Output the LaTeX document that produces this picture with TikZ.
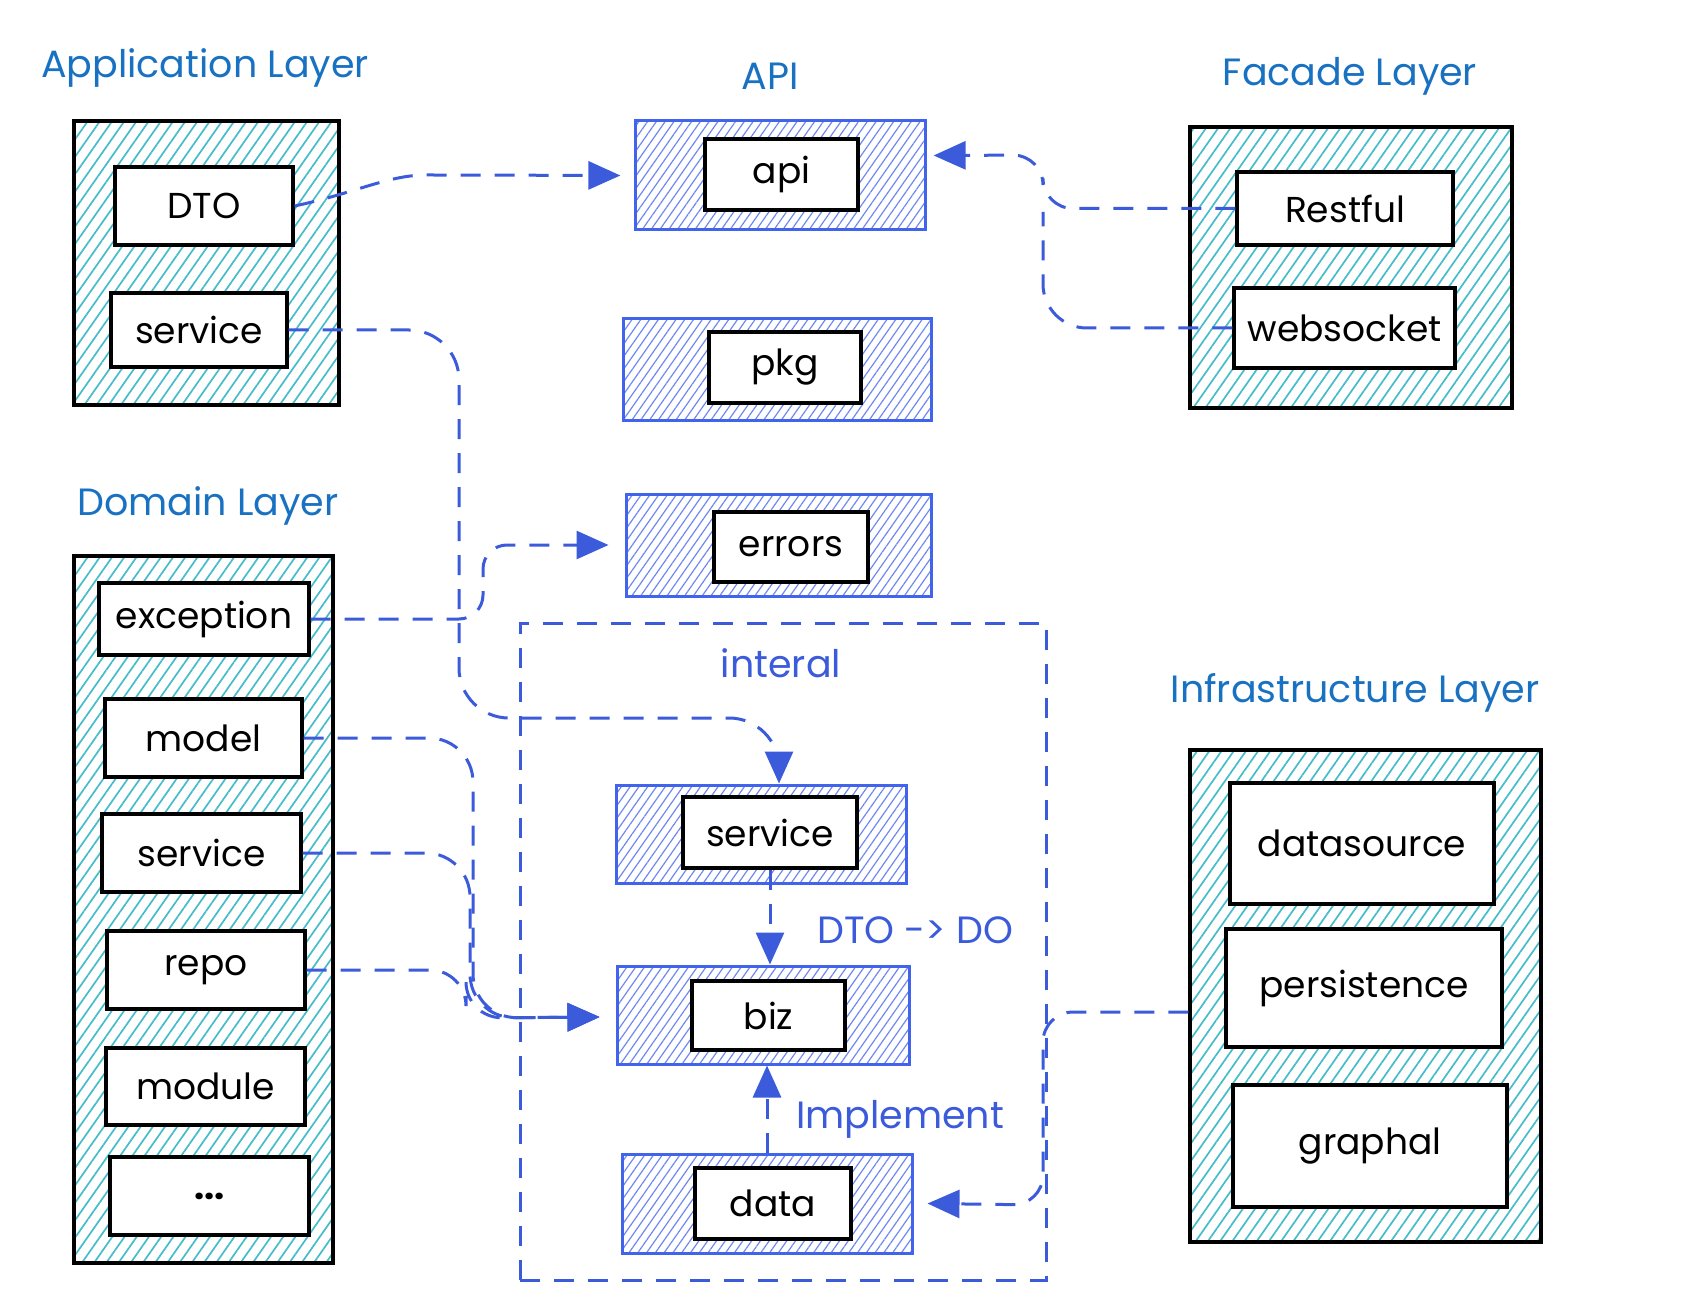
\documentclass[tikz,border=0pt]{standalone}
\usepackage{fontspec}
\setmainfont{Poppins}
\usetikzlibrary{arrows.meta,patterns.meta,fit}
\definecolor{ttlc}{HTML}{1971C2}
\definecolor{arrc}{HTML}{3B5BDB}
\definecolor{bborder}{HTML}{4263EB}
\definecolor{bhatch}{HTML}{6F88F0}
\definecolor{chatch}{HTML}{45BCCB}
\begin{document}
\begin{tikzpicture}[x=0.5pt,y=-0.5pt,
  layerbox/.style={draw=black, line width=1.6pt, pattern={Lines[angle=55,distance=5pt,line width=0.85pt]}, pattern color=chatch, inner sep=0pt},
  pkgbox/.style={draw=bborder, line width=1.5pt, pattern={Lines[angle=55,distance=3.6pt,line width=0.6pt]}, pattern color=bhatch, inner sep=0pt},
  itemtext/.style={text=black, font=\fontsize{18}{22}\selectfont, inner sep=0pt},
  itembox/.style={draw=black, line width=1.6pt, fill=white, inner sep=0pt, label={[itemtext]center:#1}},
  ttlnode/.style={text=ttlc, font=\fontsize{19}{22}\selectfont, inner sep=0pt},
  lblnode/.style={text=arrc, font=\fontsize{19}{22}\selectfont, inner sep=0pt},
  connline/.style={draw=arrc, line width=1.5pt, dash pattern=on 10pt off 7pt},
  conn/.style={connline, -{Triangle[length=16pt,width=14pt]}}
]
\useasboundingbox (0,0) rectangle (1684,1310);

% titles
\node[ttlnode] (tapp) at (205,68) {Application Layer};
\node[ttlnode] (tapi) at (770,76) {API};
\node[ttlnode] (tfac) at (1350,76) {Facade Layer};
\node[ttlnode] (tdom) at (208,506) {Domain Layer};
\node[ttlnode] (tinf) at (1355,693) {Infrastructure Layer};

% application layer
\node[layerbox, fit={(74,121)(339,405)}] (app) {};
\node[itembox=DTO, fit={(115,167)(293,245)}] (dto) {};
\node[itembox=service, fit={(111,293)(287,367)}] (appsvc) {};

% API column
\node[pkgbox, fit={(635,121)(925,230)}] (apiO) {};
\node[itembox=api, fit={(705,139)(858,210)}] (apiI) {};
\node[pkgbox, fit={(623,319)(931,420)}] (pkgO) {};
\node[itembox=pkg, fit={(709,332)(861,403)}] (pkgI) {};
\node[pkgbox, fit={(626,494)(931,596)}] (errO) {};
\node[itembox=errors, fit={(714,512)(868,582)}] (errI) {};

% facade layer
\node[layerbox, fit={(1190,127)(1512,408)}] (facade) {};
\node[itembox=Restful, fit={(1237,172)(1453,245)}] (restful) {};
\node[itembox=websocket, fit={(1234,288)(1455,368)}] (websocket) {};

% domain layer
\node[layerbox, fit={(74,556)(333,1263)}] (domain) {};
\node[itembox=exception, fit={(99,583)(309,655)}] (exception) {};
\node[itembox=model, fit={(105,699)(302,777)}] (model) {};
\node[itembox=service, fit={(102,814)(301,892)}] (dsvc) {};
\node[itembox=repo, fit={(107,931)(305,1009)}] (repo) {};
\node[itembox=module, fit={(106,1048)(305,1125)}] (module) {};
\node[itembox={\textbf{...}}, fit={(110,1157)(309,1235)}] (dots) {};

% interal
\node[connline, fit={(520,623)(1046,1280)}, inner sep=0pt] (interal) {};
\node[lblnode] (tint) at (781,663) {interal};
\node[pkgbox, fit={(616,785)(906,883)}] (isvcO) {};
\node[itembox=service, fit={(683,797)(857,868)}] (isvcI) {};
\node[pkgbox, fit={(617,966)(909,1064)}] (bizO) {};
\node[itembox=biz, fit={(692,981)(845,1050)}] (bizI) {};
\node[pkgbox, fit={(622,1154)(912,1253)}] (dataO) {};
\node[itembox=data, fit={(695,1168)(851,1239)}] (dataI) {};
\node[lblnode] (tdto) at (915,930) {DTO -> DO};
\node[lblnode] (timp) at (900,1119) {Implement};

% infrastructure layer
\node[layerbox, fit={(1190,750)(1541,1242)}] (infra) {};
\node[itembox=datasource, fit={(1230,783)(1494,904)}] (datasource) {};
\node[itembox=persistence, fit={(1226,929)(1502,1047)}] (persistence) {};
\node[itembox=graphal, fit={(1233,1085)(1507,1207)}] (graphal) {};

% connectors
\draw[conn, rounded corners=12pt] (dto.east) to[out=12,in=180] (450,175) -- ([xshift=-7pt]apiO.west);
\draw[conn, rounded corners=25pt] (appsvc.east) -| (459,718) -| ([xshift=9pt]isvcO.north);
\draw[conn, rounded corners=12pt] (exception.east) -| (483,545) -- ([xshift=-8pt]errO.west);
\draw[conn, rounded corners=22pt] (model.east) -| (473,1018) -- ([xshift=-8pt,yshift=-1pt]bizO.west);
\draw[conn, rounded corners=22pt] (dsvc.east) -| (470,1018) -- ([xshift=-8pt,yshift=-1pt]bizO.west);
\draw[conn, rounded corners=18pt] (repo.east) -| (466,1018) -- ([xshift=-8pt,yshift=-1pt]bizO.west);
\draw[conn] (isvcI.south) -- (isvcI.south |- bizO.north);
\draw[conn] (dataO.north) -- (dataO.north |- bizO.south);
\draw[conn, rounded corners=15pt] ([yshift=-8pt]infra.west) -| (1043,1205) -- ([xshift=7pt]dataO.east);
\coordinate (fjoin) at (1043,212);
\draw[conn, rounded corners=15pt] (restful.west) -| (1043,155) -- ([xshift=4pt,yshift=10pt]apiO.east);
\draw[connline, rounded corners=22pt] (websocket.west) -| (fjoin);
\end{tikzpicture}
\end{document}
